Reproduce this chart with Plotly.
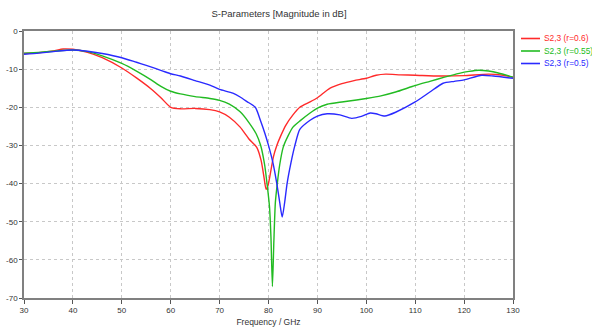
import plotly.graph_objects as go

# ---- data ----
names = ["S2,3 (r=0.6)", "S2,3 (r=0.55)", "S2,3 (r=0.5)"]
colors = ["#ff2a2a", "#22bb22", "#2a2aff"]

freq_r = [30, 33, 36, 38, 40, 43, 46, 50, 53, 56, 58, 60, 62, 65, 68, 70, 72, 74.2, 76, 77.6,
          78.5, 79.1, 79.5, 79.9, 80.5, 81, 81.7, 82.5, 83.5, 85, 86.4, 88.5, 90, 92.6, 95,
          97.5, 100, 102, 104, 107, 110, 115, 120, 125, 128, 130]
s_r = [-5.9, -5.7, -5.2, -4.7, -4.8, -5.6, -7.0, -9.7, -12.3, -15.2, -17.5, -20.0, -20.4, -20.3,
       -20.6, -21.2, -22.6, -25.2, -28.3, -30.5, -34.0, -38.5, -41.5, -40.5, -36.5, -33.0, -30.0,
       -27.5, -24.8, -22.0, -20.0, -18.6, -17.5, -15.0, -13.8, -13.0, -12.4, -11.6, -11.3, -11.5,
       -11.6, -11.8, -11.7, -11.3, -11.6, -12.1]

freq_g = [30, 33, 36, 40, 43, 46, 50, 53, 56, 58, 60, 62, 65, 68, 70, 72, 74.2, 76, 77.5, 78.4,
          79.2, 79.7, 80.2, 80.5, 80.8, 81.1, 81.4, 81.8, 82.3, 83, 84, 85, 86.5, 88.5, 90, 92,
          95, 98, 100, 103, 106, 110, 113, 116, 119, 121, 123, 125, 127, 130]
s_g = [-5.8, -5.6, -5.3, -5.0, -5.4, -6.5, -8.5, -10.5, -12.8, -14.5, -15.8, -16.5, -17.2, -17.7,
       -18.2, -19.2, -21.2, -24.0, -27.0, -30.0, -35.0, -40.0, -46.0, -54.0, -67.0, -55.0, -45.0,
       -40.0, -35.0, -30.5, -27.5, -25.2, -23.5, -21.5, -20.2, -19.2, -18.6, -18.1, -17.7, -17.0,
       -16.0, -14.3, -13.2, -12.1, -11.1, -10.6, -10.3, -10.5, -11.0, -12.1]

freq_b = [30, 33, 36, 40, 43, 46, 50, 53, 55, 58.4, 60, 62, 65, 68, 70, 72.7, 74.2, 75.6, 77.3,
          78.5, 79.3, 80, 80.9, 81.7, 82.3, 82.8, 83.3, 83.8, 84.6, 85.4, 86.4, 88.5, 90, 92,
          94.6, 97, 99, 100.8, 102, 103.8, 106, 110, 113, 115.7, 118, 120, 123.6, 126, 130]
s_b = [-6.1, -5.8, -5.4, -5.0, -5.3, -5.9, -7.0, -8.2, -9.0, -10.5, -11.2, -11.8, -13.0, -14.2,
       -15.3, -16.3, -17.3, -18.5, -20.0, -24.0, -27.0, -30.0, -34.5, -40.0, -45.0, -48.8, -45.0,
       -40.0, -34.5, -30.0, -25.8, -23.4, -22.3, -21.7, -22.0, -22.9, -22.4, -21.5, -21.7, -22.3,
       -21.3, -18.6, -16.0, -13.7, -13.2, -12.8, -11.6, -11.8, -12.4]

x_ticks = [30, 40, 50, 60, 70, 80, 90, 100, 110, 120, 130]
y_ticks = [0, -10, -20, -30, -40, -50, -60, -70]

series = [(freq_r, s_r), (freq_g, s_g), (freq_b, s_b)]

FONT = "Liberation Sans"
W, H = 592, 331
ML, MR, MT, MB = 24, 79, 31, 33
PW, PH = W - ML - MR, H - MT - MB


def px_x(xw):  # page pixel -> paper x
    return (xw - ML) / PW


def px_y(yw):  # page pixel -> paper y
    return (H - MB - yw) / PH


fig = go.Figure()
for (fx, sy), nm, col in zip(series, names, colors):
    fig.add_trace(go.Scatter(
        x=fx, y=sy, mode="lines", name=nm, showlegend=False,
        line=dict(color=col, width=1.4, shape="spline", smoothing=0.6),
    ))

# custom legend (lines + coloured labels) at the right of the plot area
for i, (nm, col) in enumerate(zip(names, colors)):
    yw = 38.5 + 12.5 * i
    fig.add_shape(type="line", xref="paper", yref="paper",
                  x0=px_x(521), x1=px_x(540), y0=px_y(yw), y1=px_y(yw),
                  line=dict(color=col, width=1.6))
    fig.add_annotation(text=nm, xref="paper", yref="paper",
                       x=px_x(541.5), xanchor="left", y=px_y(yw), yanchor="middle",
                       showarrow=False, font=dict(family=FONT, size=8.4, color=col))

fig.update_layout(
    width=W, height=H,
    margin=dict(l=ML, r=MR, t=MT, b=MB, autoexpand=False),
    paper_bgcolor="white", plot_bgcolor="white",
    font=dict(family=FONT, size=8, color="#333333"),
    title=dict(text="S-Parameters [Magnitude in dB]", x=279 / W, xref="container",
               xanchor="center", y=1 - 14 / H, yref="container", yanchor="middle",
               font=dict(family=FONT, size=9.5, color="#333333")),
    showlegend=False,
)
fig.update_xaxes(
    range=[30, 130], tickvals=x_ticks, ticktext=[str(v) for v in x_ticks],
    showgrid=True, gridcolor="#c8c8c8", griddash="dot", gridwidth=1,
    showline=True, linecolor="#808080", linewidth=1.5, mirror=True,
    ticks="outside", ticklen=4, tickcolor="#555555", zeroline=False, automargin=False,
    title=dict(text="Frequency / GHz", font=dict(family=FONT, size=8.5, color="#333333"), standoff=5),
    tickfont=dict(family=FONT, size=8, color="#333333"),
)
fig.update_yaxes(
    range=[-70, 0], tickvals=y_ticks, ticktext=[str(v) for v in y_ticks],
    showgrid=True, gridcolor="#c8c8c8", griddash="dot", gridwidth=1,
    showline=True, linecolor="#808080", linewidth=1.5, mirror=True,
    ticks="outside", ticklen=3, tickcolor="#555555", zeroline=False, automargin=False,
    tickfont=dict(family=FONT, size=8, color="#333333"),
)

# remove the default 8px page margin so the figure fills the window exactly
fig.write_html("out.html", config={"displayModeBar": False},
               post_script="document.body.style.margin='0px';")
